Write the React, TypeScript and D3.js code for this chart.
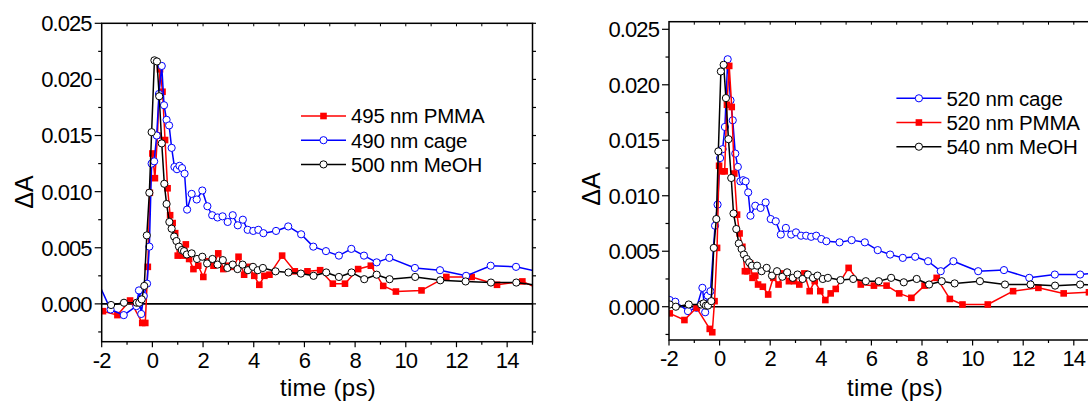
import React from "react";
import * as d3 from "d3";

type P = [number, number];

// ---------- Data (left panel) ----------
const L_PMMA_495: P[] = [
  [-1.95, -0.00065], [-1.38, -0.001], [-0.88, 0.0003], [-0.4, -0.0017], [-0.28, -0.0017],
  [-0.18, 0.0033], [-0.1, 0.0099], [0.0, 0.0134], [0.1, 0.0112], [0.2, 0.015], [0.3, 0.0209],
  [0.4, 0.0189], [0.5, 0.0146], [0.6, 0.0103], [0.7, 0.0079], [0.8, 0.0072], [0.9, 0.0063],
  [1.0, 0.0043], [1.2, 0.0043], [1.32, 0.0053], [1.45, 0.004], [1.62, 0.0031], [1.81, 0.0034],
  [2.01, 0.0024], [2.21, 0.0038], [2.41, 0.0034], [2.6, 0.0045], [2.8, 0.0031], [3.0, 0.0034],
  [3.2, 0.0033], [3.4, 0.0042], [3.62, 0.0026], [3.82, 0.0033], [4.02, 0.0025], [4.22, 0.0017],
  [4.42, 0.0025], [4.62, 0.0026], [5.12, 0.0043], [5.62, 0.0029], [6.12, 0.0029], [6.62, 0.003],
  [7.12, 0.0018], [7.6, 0.0018], [8.12, 0.0031], [8.62, 0.0034], [9.11, 0.0016], [9.61, 0.0011],
  [10.62, 0.0012], [11.6, 0.0024], [12.6, 0.0024], [13.6, 0.0017], [14.6, 0.002], [15.4, 0.0012],
];
const L_CAGE_490: P[] = [
  [-2.3, 0.0027], [-1.65, -0.0005], [-1.13, -0.001], [-0.63, -0.0002], [-0.53, 0.0012],
  [-0.44, -0.0009], [-0.34, 0.0007], [-0.21, 0.0018], [-0.12, 0.0051], [-0.03, 0.0125],
  [0.07, 0.0127], [0.17, 0.015], [0.26, 0.0187], [0.37, 0.0212], [0.46, 0.0177], [0.56, 0.0164],
  [0.66, 0.0159], [0.76, 0.0139], [0.87, 0.0122], [0.97, 0.012], [1.07, 0.0123], [1.17, 0.0121],
  [1.27, 0.0116], [1.37, 0.0084], [1.55, 0.0098], [1.75, 0.0093], [1.97, 0.0101], [2.17, 0.0087],
  [2.36, 0.0079], [2.57, 0.0077], [2.77, 0.0078], [2.97, 0.0073], [3.17, 0.0079], [3.37, 0.007],
  [3.57, 0.0075], [3.76, 0.0066], [3.98, 0.0065], [4.18, 0.0066], [4.38, 0.0063], [4.88, 0.0065],
  [5.36, 0.0069], [5.87, 0.0062], [6.35, 0.0051], [6.85, 0.0047], [7.36, 0.0043], [7.85, 0.0049],
  [8.35, 0.0043], [8.85, 0.0037], [9.35, 0.0041], [10.36, 0.0032], [11.35, 0.003], [12.38, 0.0025],
  [13.35, 0.0034], [14.35, 0.0033], [15.35, 0.0028],
];
const L_MEOH_500: P[] = [
  [-1.63, -0.0001], [-1.12, 0.0001], [-0.62, 0.0001], [-0.52, 0.0001], [-0.42, 0.0004],
  [-0.32, 0.0016], [-0.22, 0.0061], [-0.12, 0.0099], [-0.03, 0.0153], [0.08, 0.0217],
  [0.18, 0.0216], [0.27, 0.0185], [0.37, 0.0143], [0.47, 0.0107], [0.56, 0.0089], [0.67, 0.0073],
  [0.76, 0.0067], [0.86, 0.006], [0.95, 0.0056], [1.05, 0.0051], [1.16, 0.0048], [1.25, 0.0047],
  [1.36, 0.0044], [1.55, 0.0045], [1.76, 0.004], [1.97, 0.0042], [2.16, 0.0036], [2.37, 0.004],
  [2.57, 0.0035], [2.78, 0.0039], [2.96, 0.0032], [3.17, 0.0035], [3.36, 0.0031], [3.56, 0.0035],
  [3.77, 0.003], [3.97, 0.0033], [4.16, 0.003], [4.36, 0.0032], [4.86, 0.0029], [5.37, 0.0028],
  [5.86, 0.0027], [6.36, 0.0025], [6.86, 0.0028], [7.36, 0.0024], [7.86, 0.0028], [8.36, 0.0022],
  [8.85, 0.0026], [9.36, 0.0022], [10.37, 0.0024], [11.36, 0.0021], [12.36, 0.002], [13.36, 0.0019],
  [14.36, 0.0019], [15.36, 0.0016],
];

// ---------- Data (right panel) ----------
const R_CAGE_520: P[] = [
  [-1.97, 0.0006], [-1.75, 0.00045], [-1.25, -0.0004], [-0.91, -0.0001], [-0.68, 0.0017],
  [-0.57, -0.0005], [-0.47, 0.001], [-0.36, 0.0014], [-0.18, 0.0073], [-0.08, 0.0092],
  [0.02, 0.0134], [0.12, 0.0142], [0.21, 0.0162], [0.32, 0.0223], [0.43, 0.0186], [0.52, 0.0168],
  [0.62, 0.0138], [0.72, 0.0126], [0.82, 0.0113], [0.93, 0.0114], [1.03, 0.0113], [1.13, 0.0103],
  [1.22, 0.0082], [1.41, 0.0091], [1.62, 0.0089], [1.82, 0.0094], [2.02, 0.0079], [2.22, 0.0077],
  [2.42, 0.0065], [2.62, 0.0071], [2.83, 0.0065], [3.02, 0.0067], [3.22, 0.0064], [3.42, 0.0064],
  [3.62, 0.0063], [3.82, 0.0064], [4.02, 0.0061], [4.22, 0.0059], [4.74, 0.0058], [5.22, 0.006],
  [5.74, 0.0058], [6.25, 0.0051], [6.74, 0.0047], [7.24, 0.0044], [7.73, 0.0045], [8.24, 0.0041],
  [8.74, 0.0032], [9.24, 0.0041], [10.22, 0.0032], [11.24, 0.0033], [12.24, 0.0026], [13.25, 0.0029],
  [14.25, 0.0029], [15.25, 0.0031],
];
const R_PMMA_520: P[] = [
  [-1.97, -0.0006], [-1.39, -0.0012], [-0.91, -0.0001], [-0.39, -0.002], [-0.29, -0.0023],
  [-0.2, 0.0005], [-0.1, 0.0053], [-0.02, 0.0127], [0.1, 0.0122], [0.2, 0.0122], [0.29, 0.0182],
  [0.38, 0.0217], [0.48, 0.018], [0.58, 0.012], [0.69, 0.0083], [0.79, 0.0066], [0.9, 0.0054],
  [1.0, 0.0032], [1.1, 0.0032], [1.21, 0.0039], [1.3, 0.0026], [1.41, 0.0028], [1.52, 0.002],
  [1.71, 0.0018], [1.92, 0.0011], [2.12, 0.0026], [2.33, 0.002], [2.53, 0.003], [2.74, 0.0023],
  [2.94, 0.0023], [3.15, 0.002], [3.35, 0.003], [3.56, 0.0014], [3.76, 0.0023], [3.98, 0.0014],
  [4.18, 0.0006], [4.39, 0.0012], [4.59, 0.0016], [5.1, 0.0035], [5.58, 0.002], [6.1, 0.0019],
  [6.6, 0.0019], [7.1, 0.0012], [7.58, 0.0008], [8.1, 0.0019], [8.58, 0.0026], [9.1, 0.0007],
  [9.6, 0.0002], [10.6, 0.0002], [11.6, 0.0014], [12.6, 0.0017], [13.6, 0.0012], [14.6, 0.0013],
];
const R_MEOH_540: P[] = [
  [-1.97, 0.0002], [-1.73, 0.0], [-1.22, 0.0002], [-0.73, 0.0002], [-0.63, 0.0003], [-0.54, 0.0001],
  [-0.46, 0.0001], [-0.33, 0.0005], [-0.23, 0.0053], [-0.13, 0.0079], [-0.05, 0.014], [0.05, 0.0212],
  [0.16, 0.0218], [0.25, 0.0188], [0.35, 0.0151], [0.46, 0.0116], [0.55, 0.0084], [0.66, 0.007],
  [0.76, 0.0057], [0.87, 0.0052], [0.96, 0.0047], [1.07, 0.0043], [1.17, 0.004], [1.28, 0.0037],
  [1.48, 0.0037], [1.66, 0.0032], [1.86, 0.0035], [2.07, 0.0028], [2.27, 0.0032], [2.48, 0.0027],
  [2.67, 0.0031], [2.89, 0.0026], [3.08, 0.0029], [3.28, 0.0025], [3.49, 0.0029], [3.69, 0.0026],
  [3.87, 0.0028], [4.08, 0.0025], [4.28, 0.0026], [4.78, 0.0024], [5.28, 0.0025], [5.78, 0.0023],
  [6.29, 0.0023], [6.78, 0.0026], [7.28, 0.0022], [7.79, 0.0025], [8.28, 0.002], [8.78, 0.0023],
  [9.29, 0.0021], [10.29, 0.0023], [11.28, 0.002], [12.29, 0.002], [13.26, 0.0019], [14.25, 0.002],
  [15.25, 0.0019],
];

// ---------- Axes ----------
const X_DOMAIN: [number, number] = [-2, 15];
const X_MAJOR = [-2, 0, 2, 4, 6, 8, 10, 12, 14];
const X_LABELS = ["-2", "0", "2", "4", "6", "8", "10", "12", "14"];
const X_MINOR = [-1, 1, 3, 5, 7, 9, 11, 13, 15];
const X_TOP = [-1, 0, 1, 2, 3, 4, 5, 6, 7, 8, 9, 10, 11, 12, 13, 14];
const Y_MAJOR = [0, 0.005, 0.01, 0.015, 0.02, 0.025];
const Y_LABELS = ["0.000", "0.005", "0.010", "0.015", "0.020", "0.025"];
const Y_MINOR = [-0.0025, 0.0025, 0.0075, 0.0125, 0.0175, 0.0225];
const X_TITLE = "time (ps)";
const Y_TITLE = "ΔA";

type Series = { name: string; data: P[]; color: string; marker: "square" | "circle" };

const LEFT_SERIES: Series[] = [
  { name: "495 nm PMMA", data: L_PMMA_495, color: "#ff0000", marker: "square" },
  { name: "490 nm cage", data: L_CAGE_490, color: "#0000ff", marker: "circle" },
  { name: "500 nm MeOH", data: L_MEOH_500, color: "#000000", marker: "circle" },
];
const RIGHT_SERIES: Series[] = [
  { name: "520 nm cage", data: R_CAGE_520, color: "#0000ff", marker: "circle" },
  { name: "520 nm PMMA", data: R_PMMA_520, color: "#ff0000", marker: "square" },
  { name: "540 nm MeOH", data: R_MEOH_540, color: "#000000", marker: "circle" },
];

const FONT = "'Liberation Sans', Arial, Helvetica, sans-serif";

type PanelProps = {
  id: string;
  x0: number; x1: number; y0: number; y1: number;
  yDomain: [number, number];
  series: Series[];
  legendOrder: Series[];
  legendX: number; legendY: number;
  yTitleX: number; yTitleY: number;
  xTitleX: number;
};

function Marker({ m, x, y, color }: { m: "square" | "circle"; x: number; y: number; color: string }) {
  if (m === "square") {
    return <rect x={x - 3.3} y={y - 3.3} width={6.6} height={6.6} fill={color} stroke="none" />;
  }
  return <circle cx={x} cy={y} r={3.6} fill="#ffffff" stroke={color} strokeWidth={1} />;
}

function Panel(p: PanelProps) {
  const xs = d3.scaleLinear().domain(X_DOMAIN).range([p.x0, p.x1]);
  const ys = d3.scaleLinear().domain(p.yDomain).range([p.y1, p.y0]);
  const line = d3.line<P>().x((d) => xs(d[0])).y((d) => ys(d[1]));
  const clipId = `clip-${p.id}`;
  return (
    <g>
      <defs>
        <clipPath id={clipId}>
          <rect x={p.x0} y={p.y0} width={p.x1 - p.x0} height={p.y1 - p.y0} />
        </clipPath>
      </defs>
      <line x1={p.x0} x2={p.x1} y1={ys(0)} y2={ys(0)} stroke="#000" strokeWidth={1.6} />
      <g clipPath={`url(#${clipId})`}>
        {p.series.map((s) => (
          <g key={s.name}>
            <path d={line(s.data) || ""} fill="none" stroke={s.color} strokeWidth={1.5} strokeLinejoin="round" />
            {s.data.map((d, i) => (
              <Marker key={i} m={s.marker} x={xs(d[0])} y={ys(d[1])} color={s.color} />
            ))}
          </g>
        ))}
      </g>
      <rect x={p.x0} y={p.y0} width={p.x1 - p.x0} height={p.y1 - p.y0} fill="none" stroke="#000" strokeWidth={1.5} />
      {Y_MAJOR.map((v, i) => (
        <g key={"ym" + i}>
          <line x1={p.x0 - 7} x2={p.x0} y1={ys(v)} y2={ys(v)} stroke="#000" strokeWidth={1.2} />
          <text x={p.x0 - 10} y={ys(v)} dy="0.36em" textAnchor="end" fontSize={22} letterSpacing={-0.9} fontFamily={FONT}>
            {Y_LABELS[i]}
          </text>
        </g>
      ))}
      {Y_MINOR.map((v, i) => (
        <g key={"yn" + i}>
          <line x1={p.x0 - 3.5} x2={p.x0} y1={ys(v)} y2={ys(v)} stroke="#000" strokeWidth={1.2} />
          <line x1={p.x1} x2={p.x1 + 3.5} y1={ys(v)} y2={ys(v)} stroke="#000" strokeWidth={1.2} />
        </g>
      ))}
      {Y_MAJOR.map((v, i) => (
        <line key={"yr" + i} x1={p.x1} x2={p.x1 + 3.5} y1={ys(v)} y2={ys(v)} stroke="#000" strokeWidth={1.2} />
      ))}
      {X_MAJOR.map((v, i) => (
        <g key={"xm" + i}>
          <line x1={xs(v)} x2={xs(v)} y1={p.y1} y2={p.y1 + 5.5} stroke="#000" strokeWidth={1.2} />
          <text x={xs(v)} y={p.y1 + 26} textAnchor="middle" fontSize={22} letterSpacing={-0.9} fontFamily={FONT}>
            {X_LABELS[i]}
          </text>
        </g>
      ))}
      {X_MINOR.map((v, i) => (
        <line key={"xn" + i} x1={xs(v)} x2={xs(v)} y1={p.y1} y2={p.y1 + 3} stroke="#000" strokeWidth={1.2} />
      ))}
      {X_TOP.map((v, i) => (
        <line key={"xt" + i} x1={xs(v)} x2={xs(v)} y1={p.y0} y2={p.y0 + 3} stroke="#000" strokeWidth={1} />
      ))}
      <text x={p.xTitleX} y={396} textAnchor="middle" fontSize={24} letterSpacing={0.3} fontFamily={FONT}>
        {X_TITLE}
      </text>
      <text
        transform={`translate(${p.yTitleX},${p.yTitleY}) rotate(-90)`}
        textAnchor="middle"
        dy="0.35em"
        fontSize={25}
        fontFamily={FONT}
      >
        {Y_TITLE}
      </text>
      {p.legendOrder.map((s, i) => {
        const y = p.legendY + i * 24.2;
        return (
          <g key={"lg" + i}>
            <line x1={p.legendX} x2={p.legendX + 45} y1={y} y2={y} stroke={s.color} strokeWidth={1.5} />
            <Marker m={s.marker} x={p.legendX + 22.5} y={y} color={s.color} />
            <text x={p.legendX + 50} y={y} dy="0.36em" fontSize={20.5} letterSpacing={-0.2} fontFamily={FONT}>
              {s.name}
            </text>
          </g>
        );
      })}
    </g>
  );
}

export default function App() {
  return (
    <svg
      width={1088}
      height={407}
      style={{ position: "absolute", left: 0, top: 0, background: "#fff" }}
      xmlns="http://www.w3.org/2000/svg"
    >
      <rect x={0} y={0} width={1088} height={407} fill="#fff" />
      <Panel
        id="left"
        x0={101.7} x1={532.5} y0={23.3} y1={341.7}
        yDomain={[-0.00337, 0.025]}
        series={LEFT_SERIES}
        legendOrder={LEFT_SERIES}
        legendX={301} legendY={116}
        yTitleX={24} yTitleY={192}
        xTitleX={328}
      />
      <Panel
        id="right"
        x0={669} x1={1099.1} y0={21.7} y1={340}
        yDomain={[-0.003, 0.025685]}
        series={RIGHT_SERIES}
        legendOrder={RIGHT_SERIES}
        legendX={896.4} legendY={98.3}
        yTitleX={591} yTitleY={189}
        xTitleX={895}
      />
    </svg>
  );
}
